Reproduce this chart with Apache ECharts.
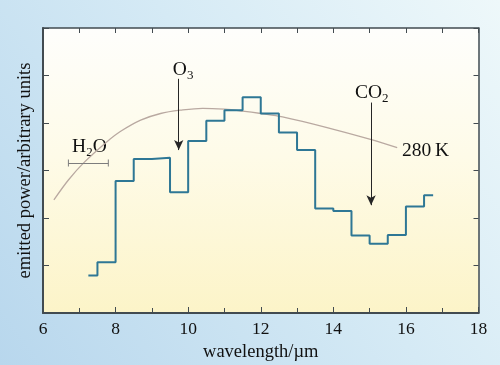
<!DOCTYPE html>
<html><head><meta charset="utf-8">
<script src="https://cdn.jsdelivr.net/npm/echarts@6/dist/echarts.min.js"></script>
<style>html,body{margin:0;padding:0;}#c{width:500px;height:365px;}</style>
</head><body><div id="c"></div>
<script>
// Measured spectrum: bins of 0.5 µm (first and last partial)
const binStart = [7.25, 7.5, 8, 8.5, 9, 9.5, 10, 10.5, 11, 11.5, 12, 12.5, 13, 13.5, 14, 14.5, 15, 15.5, 16, 16.5];
const binEnd = 16.75;
const emitted = [0.79, 1.07, 2.78, 3.24, 3.27, 2.54, 3.62, 4.05, 4.27, 4.54, 4.20, 3.80, 3.43, 2.20, 2.15, 1.63, 1.46, 1.64, 2.24, 2.48];

// 280 K reference curve
const curveX = [6.3, 6.7, 7.12, 7.77, 8.13, 8.69, 9.24, 9.79, 10.4, 11.0, 11.5, 12.0, 12.6, 13.8, 15.0, 15.76];
const curveY = [2.38, 2.80, 3.16, 3.61, 3.82, 4.06, 4.20, 4.27, 4.31, 4.29, 4.25, 4.20, 4.13, 3.91, 3.66, 3.48];

// Tick labels
const xTickLabels = ['6', '8', '10', '12', '14', '16', '18'];

// Annotations
const labelText = ['{n|H}{s|2}{n|O}', '{n|O}{s|3}', '{n|CO}{s|2}', '{n|280\u2009K}'];
const labelX = [7.28, 9.86, 15.06, 16.54];
const labelY = [3.52, 5.13, 4.66, 3.43];

const arrowX = [9.74, 15.04];
const arrowFrom = [4.93, 4.43];
const arrowTo = [3.43, 2.27];

const h2oBand = [6.7, 7.8];
const h2oLevel = 3.16;

const serif = '"Liberation Serif", "DejaVu Serif", serif';
const axisColor = '#424b50';
const textColor = '#111111';

const chart = echarts.init(document.getElementById('c'));

const stepData = binStart.map((x, i) => [x, emitted[i]]).concat([[binEnd, emitted[emitted.length - 1]]]);
const curveData = curveX.map((x, i) => [x, curveY[i]]);
const labelData = labelX.map((x, i) => ({ value: [x, labelY[i]], text: labelText[i] }));
const arrowLines = arrowX.map((x, i) => [{ coord: [x, arrowFrom[i]] }, { coord: [x, arrowTo[i]] }]);

const tickStyle = { color: axisColor, width: 1 };

chart.setOption({
  animation: false,
  backgroundColor: {
    type: 'linear', x: 0, y: 1, x2: 1, y2: 0,
    colorStops: [
      { offset: 0, color: '#b8d7ed' },
      { offset: 0.55, color: '#d5eaf5' },
      { offset: 1, color: '#eef8fa' }
    ]
  },
  grid: {
    left: 43, top: 28, right: 21.5, bottom: 52,
    show: true, borderWidth: 0,
    containLabel: false, outerBoundsMode: 'none',
    backgroundColor: {
      type: 'linear', x: 0, y: 0, x2: 0, y2: 1,
      colorStops: [
        { offset: 0, color: '#fefefc' },
        { offset: 0.45, color: '#fefbe8' },
        { offset: 1, color: '#fcf4c8' }
      ]
    }
  },
  xAxis: [
    {
      type: 'value', min: 6, max: 18, interval: 2, position: 'bottom',
      axisLine: { show: true, onZero: false, lineStyle: { color: axisColor, width: 2 } },
      axisTick: { show: true, inside: true, length: 6, lineStyle: tickStyle },
      minorTick: { show: true, splitNumber: 2, length: 5, lineStyle: tickStyle },
      splitLine: { show: false },
      axisLabel: {
        margin: 7, color: textColor, fontSize: 17.5, fontFamily: serif,
        formatter: (v) => xTickLabels[Math.round((v - 6) / 2)]
      },
      name: 'wavelength/µm', nameLocation: 'middle', nameGap: 25,
      nameTextStyle: { color: textColor, fontSize: 18.5, fontFamily: serif }
    },
    {
      type: 'value', min: 6, max: 18, interval: 1, position: 'top',
      axisLine: { show: true, onZero: false, lineStyle: { color: axisColor, width: 1.5 } },
      axisTick: { show: true, inside: true, length: 5, lineStyle: tickStyle },
      splitLine: { show: false },
      axisLabel: { show: false }
    }
  ],
  yAxis: [
    {
      type: 'value', min: 0, max: 6, interval: 1, position: 'left',
      axisLine: { show: true, onZero: false, lineStyle: { color: axisColor, width: 2 } },
      axisTick: { show: true, inside: true, length: 6, lineStyle: tickStyle },
      splitLine: { show: false },
      axisLabel: { show: false },
      name: 'emitted power/arbitrary units', nameLocation: 'middle', nameGap: 8,
      nameTextStyle: { color: textColor, fontSize: 18.5, fontFamily: serif }
    },
    {
      type: 'value', min: 0, max: 6, interval: 1, position: 'right',
      axisLine: { show: true, onZero: false, lineStyle: { color: axisColor, width: 1.5 } },
      axisTick: { show: true, inside: true, length: 5, lineStyle: tickStyle },
      splitLine: { show: false },
      axisLabel: { show: false }
    }
  ],
  series: [
    {
      name: '280 K', type: 'line', data: curveData, smooth: 0.35,
      showSymbol: false, silent: true,
      lineStyle: { color: '#b9a9a1', width: 1.3 }
    },
    {
      name: 'spectrum', type: 'line', data: stepData, step: 'end',
      showSymbol: false, silent: true,
      lineStyle: { color: '#2e7795', width: 2 }
    },
    {
      name: 'arrows', type: 'line', data: [], silent: true,
      markLine: {
        silent: true, animation: false,
        symbol: ['none', 'arrow'], symbolSize: [7, 10],
        label: { show: false },
        lineStyle: { color: '#262626', width: 1, type: 'solid' },
        data: arrowLines
      }
    },
    {
      name: 'h2o', type: 'line', data: [], silent: true,
      markLine: {
        silent: true, animation: false,
        symbol: ['rect', 'rect'], symbolSize: [7, 1],
        label: { show: false },
        lineStyle: { color: '#7d7d7d', width: 1, type: 'solid' },
        data: [[{ coord: [h2oBand[0], h2oLevel] }, { coord: [h2oBand[1], h2oLevel] }]]
      }
    },
    {
      name: 'labels', type: 'scatter', data: labelData, symbolSize: 1, silent: true,
      itemStyle: { color: 'rgba(0,0,0,0)' },
      label: {
        show: true, position: 'inside', color: textColor, opacity: 1,
        formatter: (p) => p.data.text,
        rich: {
          n: { fontSize: 19.5, fontFamily: serif, color: textColor, lineHeight: 22, verticalAlign: 'bottom' },
          s: { fontSize: 13, fontFamily: serif, color: textColor, height: 9, lineHeight: 9, verticalAlign: 'bottom' }
        }
      }
    }
  ]
});
</script>
</body></html>
